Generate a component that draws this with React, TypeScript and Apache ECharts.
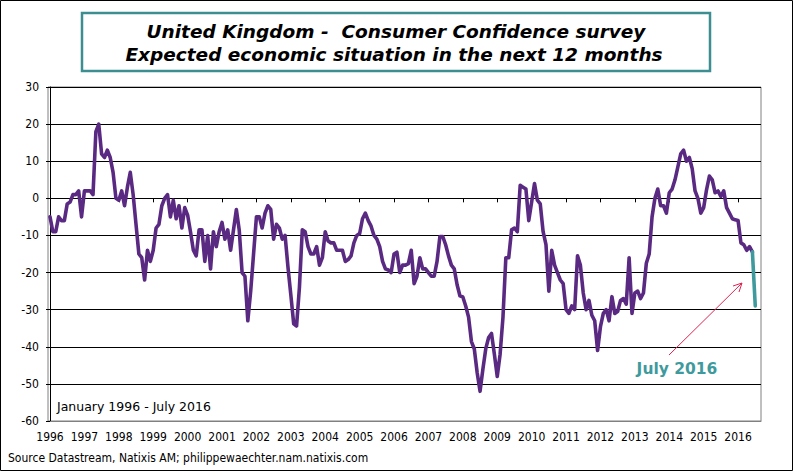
import React, { useEffect, useRef } from "react";
import * as echarts from "echarts";

// Monthly values, Jan 1996 - Jul 2016
const v1996 = [-5, -9, -9, -5, -6, -6, -1.5, -1, 1, 1, 2, -5];
const v1997 = [2, 2, 2, 1, 18, 20, 12, 11, 13, 11, 7, 0];
const v1998 = [-0.5, 2, -2, 3, 7, 1, -7, -15, -16, -22, -14, -17];
const v1999 = [-14, -8, -7, -2, 0, 1, -5, -0.5, -5.5, -2, -8, -2.5];
const v2000 = [-4.5, -9, -14, -15.5, -8.5, -8.5, -17, -10, -19, -9, -13, -9];
const v2001 = [-6.5, -11, -8.5, -14, -8.5, -3, -8.5, -20, -21, -33, -25, -15];
const v2002 = [-5, -5, -8, -4, -2, -3, -11, -7, -8, -11, -10, -18.5];
const v2003 = [-26, -33.8, -34.4, -24, -8.5, -9, -13, -15, -15, -13, -18, -16];
const v2004 = [-9, -11.5, -12, -12, -14, -14, -14, -17, -16.5, -15.5, -12, -10];
const v2005 = [-9.5, -5.5, -4, -6, -7.5, -10, -11, -13, -17, -19, -19.3, -20];
const v2006 = [-15, -14.5, -20, -18, -18, -17.6, -14, -23, -21, -16, -19, -19];
const v2007 = [-20, -21, -21, -17, -10.3, -10.3, -12.5, -15.5, -18, -19, -23.3, -26.3];
const v2008 = [-26.6, -29, -32, -38.6, -40.6, -47, -52, -46, -40.5, -37.5, -36.4, -42];
const v2009 = [-48, -42, -32, -16, -16, -8.5, -8, -9, 3.5, 3, 2.5, -6];
const v2010 = [-1, 4, -0.5, -1.5, -9, -12.5, -25, -14, -18, -20, -22, -23];
const v2011 = [-30, -31, -29, -30, -15.5, -18, -25.5, -30, -27.5, -31.5, -33, -41];
const v2012 = [-34.6, -31, -30, -33, -26.5, -31, -30.5, -27.5, -27, -28.5, -16, -31];
const v2013 = [-25.5, -25, -27, -25.5, -17.5, -15, -5, 0, 2.5, -2, -2, -4];
const v2014 = [1.5, 2.5, 5, 8.5, 12, 13, 10, 11, 8, 2, 0, -4];
const v2015 = [-2.5, 2.3, 6, 5, 1.5, 2, 0.5, 2, -2.5, -4, -5.5, -5.8];
const v2016 = [-6, -12, -12.5, -14, -13, -14.4, -29];

const allValues = [
  ...v1996, ...v1997, ...v1998, ...v1999, ...v2000, ...v2001, ...v2002,
  ...v2003, ...v2004, ...v2005, ...v2006, ...v2007, ...v2008, ...v2009,
  ...v2010, ...v2011, ...v2012, ...v2013, ...v2014, ...v2015, ...v2016,
];

const yearLabels = [
  "1996", "1997", "1998", "1999", "2000", "2001", "2002", "2003", "2004",
  "2005", "2006", "2007", "2008", "2009", "2010", "2011", "2012", "2013",
  "2014", "2015", "2016",
];

const titleLine1 = "United Kingdom -  Consumer Confidence survey";
const titleLine2 = "Expected economic situation in the next 12 months";
const periodText = "January 1996 - July 2016";
const sourceText = "Source Datastream, Natixis AM; philippewaechter.nam.natixis.com";
const lastLabel = "July 2016";

const FONT = "'DejaVu Sans Condensed', 'DejaVu Sans', sans-serif";
const WIDE_FONT = "'DejaVu Sans', sans-serif";
const PURPLE = "#5A2A82";
const TEAL = "#3E9A9D";

export default function App() {
  const ref = useRef<HTMLDivElement>(null);
  useEffect(() => {
    document.body.style.margin = "0";
    const chart = echarts.init(ref.current!, null, { renderer: "svg" });
    const n = allValues.length;
    const mainData = allValues.slice(0, n - 1).map((v, i) => [i, v]);
    const lastData = [
      [n - 2, allValues[n - 2]],
      [n - 1, allValues[n - 1]],
    ];
    const yearTicks = yearLabels.map((_, i) => i * 12);

    chart.setOption({
      animation: false,
      backgroundColor: "#fff",
      grid: {
        left: 48,
        right: 32,
        top: 87,
        bottom: 50,
        show: true,
        borderColor: "#808080",
        borderWidth: 1,
        backgroundColor: "transparent",
      },
      xAxis: [
        {
          type: "value",
          min: -0.7,
          max: 248,
          position: "bottom",
          axisLine: { show: true, onZero: false, lineStyle: { color: "#808080", width: 1 } },
          axisTick: { show: false },
          splitLine: { show: false },
          axisLabel: {
            customValues: yearTicks,
            formatter: (v: number) => yearLabels[Math.round(v / 12)] ?? "",
            margin: 10,
            fontSize: 12,
            fontFamily: FONT,
            color: "#000",
          },
        },
        {
          type: "value",
          min: -0.7,
          max: 248,
          position: "top",
          axisLine: { show: true, onZero: true, onZeroAxisIndex: 0, lineStyle: { color: "#000", width: 1 } },
          axisTick: { show: true, inside: true, length: 4, customValues: yearTicks, lineStyle: { color: "#000" } },
          axisLabel: { show: false },
          splitLine: { show: false },
        },
      ],
      yAxis: {
        type: "value",
        min: -60,
        max: 30,
        interval: 10,
        axisLine: { show: true, lineStyle: { color: "#000", width: 1 } },
        axisTick: { show: true, length: 4, lineStyle: { color: "#000" } },
        splitLine: { show: true, lineStyle: { color: "#000", width: 1 } },
        axisLabel: { margin: 9, fontSize: 12, fontFamily: FONT, color: "#000" },
      },
      series: [
        {
          type: "line",
          data: mainData,
          showSymbol: false,
          symbol: "none",
          lineStyle: { color: PURPLE, width: 3.6, join: "round", cap: "round" },
          z: 3,
        },
        {
          type: "line",
          data: lastData,
          showSymbol: false,
          symbol: "none",
          lineStyle: { color: TEAL, width: 3.6, cap: "round" },
          z: 4,
        },
      ],
      graphic: [
        {
          type: "rect",
          shape: { x: 0.5, y: 0.5, width: 792, height: 470 },
          style: { fill: "none", stroke: "#000", lineWidth: 1 },
          silent: true,
          z: 100,
        },
        {
          type: "rect",
          shape: { x: 82, y: 13, width: 628, height: 58 },
          style: { fill: "#fff", stroke: "#3D8E90", lineWidth: 2.5 },
          z: 100,
        },
        {
          type: "text",
          style: {
            text: titleLine1,
            x: 396,
            y: 31.5,
            textAlign: "center",
            textVerticalAlign: "middle",
            fontSize: 18.5,
            fontWeight: "bold",
            fontStyle: "italic",
            fontFamily: WIDE_FONT,
            fill: "#000",
          },
          z: 101,
        },
        {
          type: "text",
          style: {
            text: titleLine2,
            x: 394,
            y: 54.5,
            textAlign: "center",
            textVerticalAlign: "middle",
            fontSize: 18.5,
            fontWeight: "bold",
            fontStyle: "italic",
            fontFamily: WIDE_FONT,
            fill: "#000",
          },
          z: 101,
        },
        {
          type: "text",
          style: {
            text: periodText,
            x: 57,
            y: 406,
            textAlign: "left",
            textVerticalAlign: "middle",
            fontSize: 12.5,
            fontFamily: WIDE_FONT,
            fill: "#000",
          },
          z: 101,
        },
        {
          type: "text",
          style: {
            text: sourceText,
            x: 8,
            y: 458,
            textAlign: "left",
            textVerticalAlign: "middle",
            fontSize: 12,
            fontFamily: FONT,
            fill: "#000",
          },
          z: 101,
        },
        {
          type: "text",
          style: {
            text: lastLabel,
            x: 677,
            y: 369,
            textAlign: "center",
            textVerticalAlign: "middle",
            fontSize: 15.5,
            fontWeight: "bold",
            fontFamily: WIDE_FONT,
            fill: TEAL,
          },
          z: 101,
        },
        {
          type: "line",
          shape: { x1: 669, y1: 355, x2: 742, y2: 283 },
          style: { stroke: "#E0254F", lineWidth: 1 },
          z: 101,
        },
        {
          type: "polyline",
          shape: { points: [[733, 286], [742, 283], [739, 292]] },
          style: { stroke: "#E0254F", lineWidth: 1, fill: "none" },
          z: 101,
        },
      ],
    });
    return () => chart.dispose();
  }, []);
  return <div ref={ref} style={{ width: 793, height: 471 }} />;
}
